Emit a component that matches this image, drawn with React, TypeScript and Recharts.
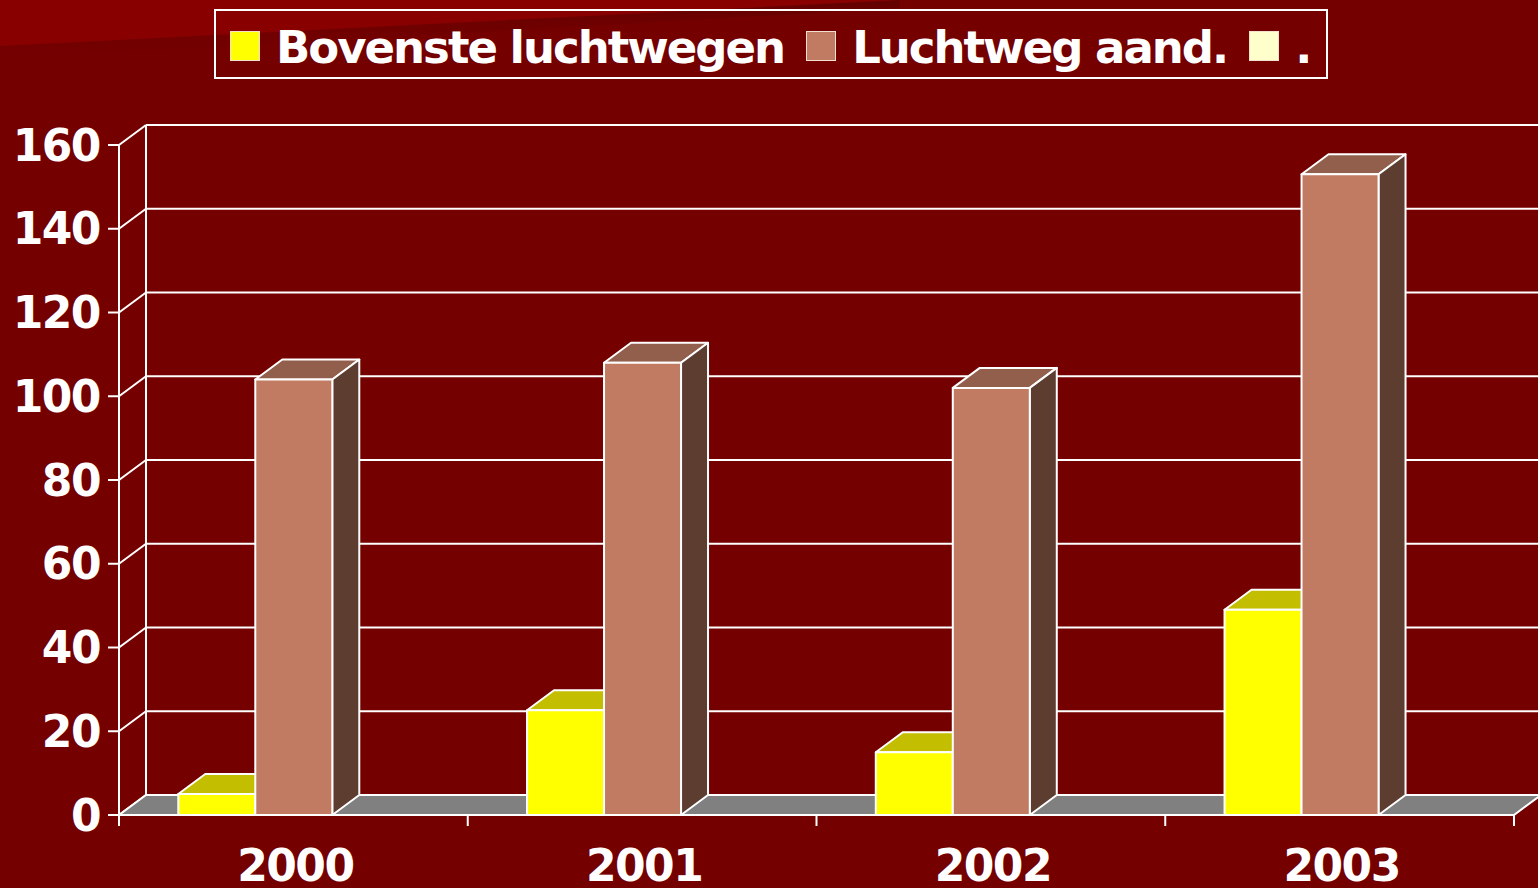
import { BarChart, Bar, XAxis, YAxis, CartesianGrid, ReferenceArea } from "recharts";

const categories = ["2000", "2001", "2002", "2003"];
const bovensteLuchtwegen = [5, 25, 15, 49];
const luchtwegAand = [104, 108, 102, 153];
const punt = [0, 0, 0, 0];
const yTicks = [0, 20, 40, 60, 80, 100, 120, 140, 160];

const series = [
  { key: "bovenste", name: "Bovenste luchtwegen", values: bovensteLuchtwegen, front: "#FFFF00", top: "#C4BE00", side: "#8A8600" },
  { key: "luchtweg", name: "Luchtweg aand.", values: luchtwegAand, front: "#C07B62", top: "#925F4D", side: "#5E3D31" },
  { key: "punt", name: ".", values: punt, front: "#FFFFCC", top: "#C4C49C", side: "#8A8A6E" },
];

const data = categories.map((year, i) => {
  const row: Record<string, string | number> = { year };
  series.forEach((s) => (row[s.key] = s.values[i]));
  return row;
});

// 3d depth offset
const DX = 27;
const DY = 20;
const BG = "#740000";
const FONT = "'DejaVu Sans', Verdana, sans-serif";
const LINE = "#FFFFFF";

function Box3D(props: any) {
  const { x, y, width: w, height: h, front, top, side } = props;
  if (!h || h <= 0) return <g />;
  return (
    <g stroke={LINE} strokeWidth={2} strokeLinejoin="round">
      <polygon points={`${x},${y} ${x + w},${y} ${x + w + DX},${y - DY} ${x + DX},${y - DY}`} fill={top} />
      <polygon points={`${x + w},${y} ${x + w + DX},${y - DY} ${x + w + DX},${y + h - DY} ${x + w},${y + h}`} fill={side} />
      <rect x={x} y={y} width={w} height={h} fill={front} />
    </g>
  );
}

function gridLine(p: any) {
  const { x1, y1, x2, y2 } = p;
  return (
    <g key={p.key ?? `${y1}`} stroke={LINE} strokeWidth={2}>
      <line x1={x1} y1={y1} x2={x1 + DX} y2={y1 - DY} />
      <line x1={x1 + DX} y1={y1 - DY} x2={x2 + DX} y2={y2 - DY} />
    </g>
  );
}

function Floor(p: any) {
  const { x, y, width: w, height: h } = p;
  const b = y + h;
  return (
    <g stroke={LINE} strokeWidth={2}>
      <line x1={x + DX} y1={y - DY} x2={x + DX} y2={b - DY} />
      <polygon points={`${x},${b} ${x + w},${b} ${x + w + DX},${b - DY} ${x + DX},${b - DY}`} fill="#808080" />
    </g>
  );
}

function XTick(p: any) {
  const { x, y, payload, index } = p;
  const half = payload?.offset ?? 174.5;
  const base = y - 10;
  const ticks = [x - half];
  if (index === categories.length - 1) ticks.push(x + half);
  return (
    <g>
      {ticks.map((tx, i) => (
        <line key={i} x1={tx} y1={base} x2={tx} y2={base + 11} stroke={LINE} strokeWidth={2} />
      ))}
      <text x={x + 2} y={base + 66} textAnchor="middle" fill="#fff" fontFamily={FONT} fontWeight="bold" fontSize={44} letterSpacing={-1.5}>
        {payload.value}
      </text>
    </g>
  );
}

function Legend() {
  return (
    <div
      style={{
        position: "absolute", left: 214, top: 9, width: 1096, height: 66,
        border: `2px solid ${LINE}`, display: "flex", alignItems: "center",
        paddingLeft: 14, boxSizing: "content-box", fontFamily: FONT, fontWeight: "bold",
        fontSize: 45, letterSpacing: -2, color: "#fff", whiteSpace: "nowrap",
      }}
    >
      {series.map((s) => (
        <div key={s.key} style={{ display: "flex", alignItems: "center", marginRight: 22, position: "relative", top: 2 }}>
          <span style={{ width: 28, height: 28, background: s.front, border: "1px solid #f4e0d0", marginRight: 16, display: "inline-block" }} />
          <span style={{ lineHeight: "66px", position: "relative", top: 2 }}>{s.name}</span>
        </div>
      ))}
    </div>
  );
}

export default function App() {
  return (
    <div style={{ position: "absolute", left: 0, top: 0, width: 1538, height: 888, background: BG, overflow: "hidden" }}>
      <svg width={1538} height={888} style={{ position: "absolute", left: 0, top: 0 }}>
        <defs>
          <linearGradient id="shade" x1="0" y1="0" x2="0" y2="1">
            <stop offset="0" stopColor="#5e0000" stopOpacity={0.8} />
            <stop offset="1" stopColor={BG} stopOpacity={0} />
          </linearGradient>
        </defs>
        <polygon points="0,46 900,0 900,8 0,60" fill="url(#shade)" />
        <polygon points="0,0 900,0 0,46" fill="#880000" />
      </svg>
      <div style={{ position: "absolute", left: 0, top: 0 }}>
        <BarChart
          width={1538}
          height={888}
          data={data}
          margin={{ top: 145, right: 24, bottom: 0, left: 8 }}
          barCategoryGap="17%"
          barGap={0}
        >
          <CartesianGrid vertical={false} horizontal={gridLine} />
          <ReferenceArea y1={0} y2={160} shape={Floor} ifOverflow="visible" />
          <XAxis
            dataKey="year"
            height={73}
            axisLine={{ stroke: LINE, strokeWidth: 2 }}
            tickLine={false}
            tickSize={10}
            tickMargin={0}
            tick={XTick}
            interval={0}
          />
          <YAxis
            width={111}
            domain={[0, 160]}
            ticks={yTicks}
            interval={0}
            axisLine={{ stroke: LINE, strokeWidth: 2 }}
            tickLine={{ stroke: LINE, strokeWidth: 2 }}
            tickSize={11}
            tickMargin={8}
            tick={{ fill: "#fff", fontFamily: FONT, fontWeight: "bold", fontSize: 44, letterSpacing: -1.5 }}
          />
          {series.map((s) => (
            <Bar
              key={s.key}
              dataKey={s.key}
              name={s.name}
              fill={s.front}
              isAnimationActive={false}
              shape={(p: any) => <Box3D {...p} front={s.front} top={s.top} side={s.side} />}
            />
          ))}
        </BarChart>
      </div>
      <Legend />
    </div>
  );
}
